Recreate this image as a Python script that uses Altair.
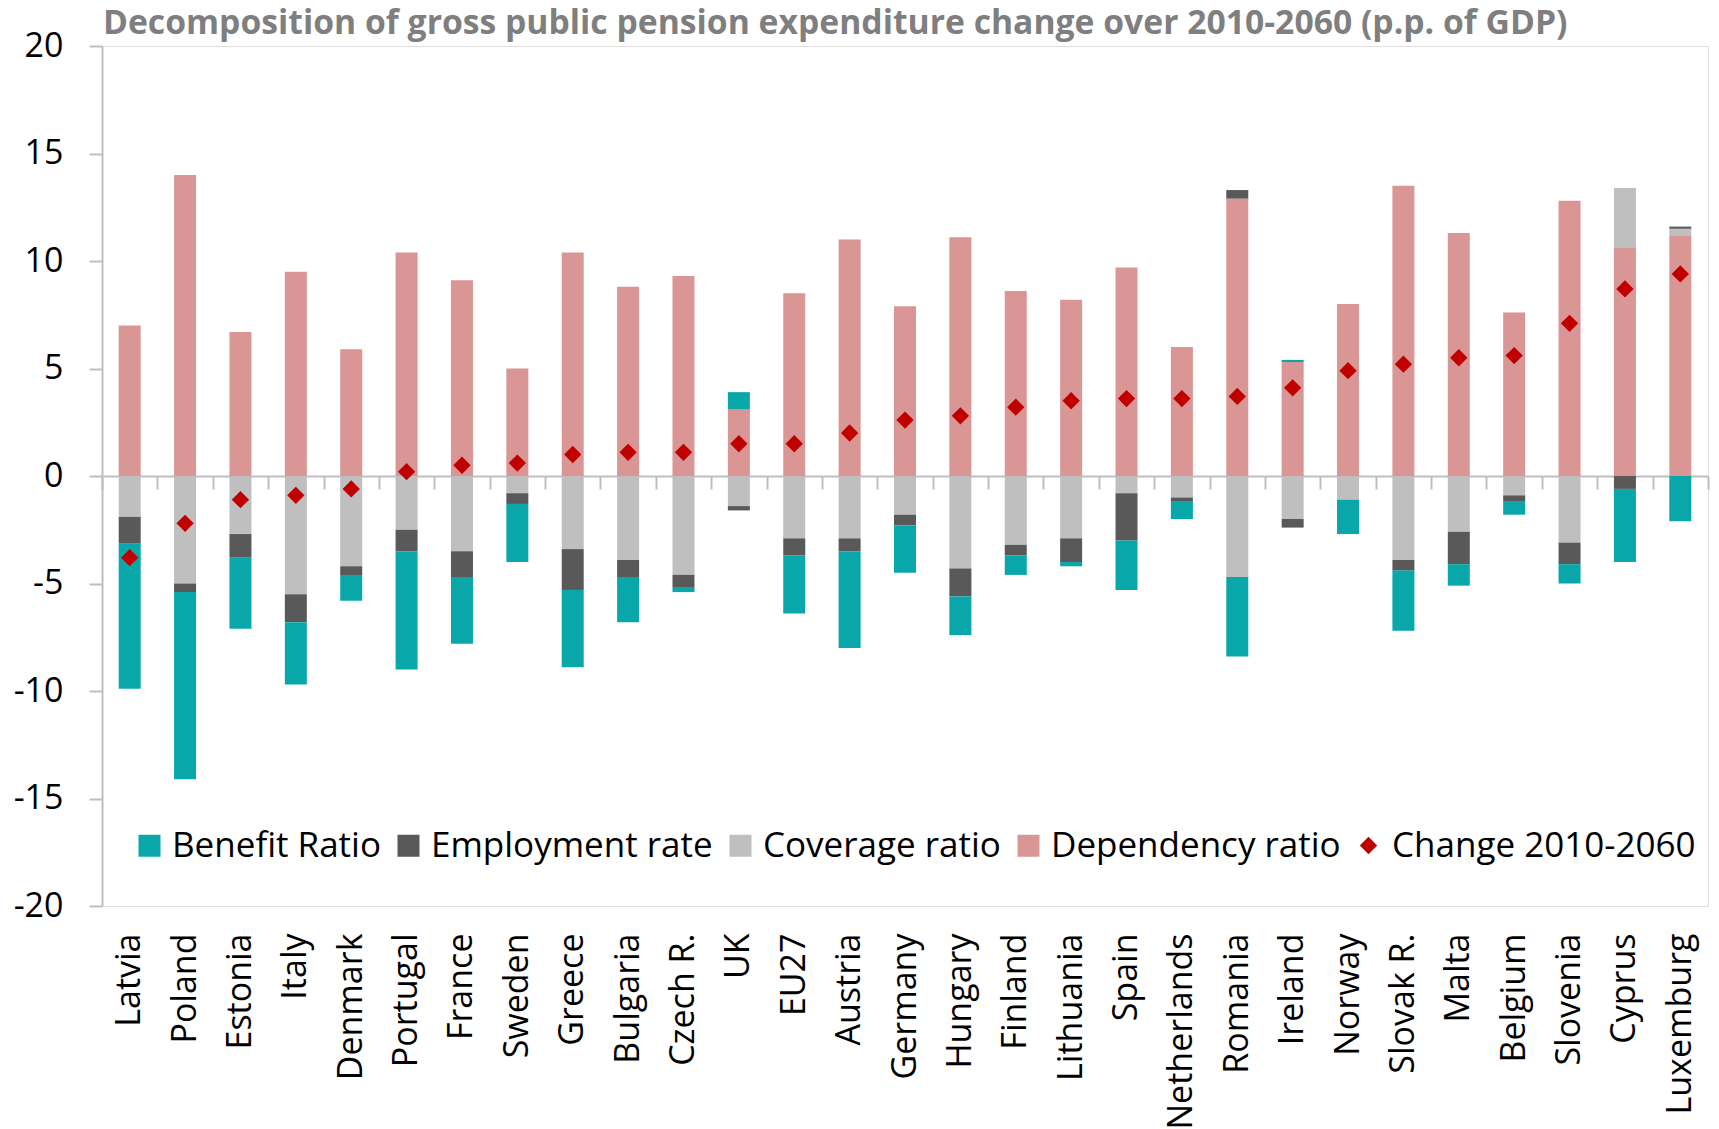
import altair as alt
import pandas as pd

countries = ["Latvia", "Poland", "Estonia", "Italy", "Denmark", "Portugal", "France", "Sweden",
             "Greece", "Bulgaria", "Czech R.", "UK", "EU27", "Austria", "Germany", "Hungary",
             "Finland", "Lithuania", "Spain", "Netherlands", "Romania", "Ireland", "Norway",
             "Slovak R.", "Malta", "Belgium", "Slovenia", "Cyprus", "Luxemburg"]

dependency = [7.0, 14.0, 6.7, 9.5, 5.9, 10.4, 9.1, 5.0, 10.4, 8.8, 9.3, 3.1, 8.5, 11.0, 7.9,
              11.1, 8.6, 8.2, 9.7, 6.0, 12.9, 5.3, 8.0, 13.5, 11.3, 7.6, 12.8, 10.6, 11.2]
coverage = [-1.9, -5.0, -2.7, -5.5, -4.2, -2.5, -3.5, -0.8, -3.4, -3.9, -4.6, -1.4, -2.9, -2.9,
            -1.8, -4.3, -3.2, -2.9, -0.8, -1.0, -4.7, -2.0, -1.1, -3.9, -2.6, -0.9, -3.1, 2.8, 0.3]
employment = [-1.25, -0.4, -1.1, -1.3, -0.4, -1.0, -1.2, -0.5, -1.9, -0.8, -0.6, -0.2, -0.8, -0.6,
              -0.5, -1.3, -0.5, -1.1, -2.2, -0.2, 0.4, -0.4, 0.0, -0.5, -1.5, -0.3, -1.0, -0.6, 0.1]
benefit = [-6.75, -8.7, -3.3, -2.9, -1.2, -5.5, -3.1, -2.7, -3.6, -2.1, -0.2, 0.8, -2.7, -4.5,
           -2.2, -1.8, -0.9, -0.2, -2.3, -0.8, -3.7, 0.1, -1.6, -2.8, -1.0, -0.6, -0.9, -3.4, -2.1]
change = [-3.8, -2.2, -1.1, -0.9, -0.6, 0.2, 0.5, 0.6, 1.0, 1.1, 1.1, 1.5, 1.5, 2.0, 2.6, 2.8,
          3.2, 3.5, 3.6, 3.6, 3.7, 4.1, 4.9, 5.2, 5.5, 5.6, 7.1, 8.7, 9.4]

series_names = ["Benefit Ratio", "Employment rate", "Coverage ratio", "Dependency ratio"]
series_colors = ["#0AA7AA", "#595959", "#BFBFBF", "#D99694"]
stack_rank = {"Dependency ratio": 0, "Coverage ratio": 1, "Employment rate": 2, "Benefit Ratio": 3}
change_name = "Change 2010-2060"

rows = []
for i, c in enumerate(countries):
    for name, vals in [("Dependency ratio", dependency), ("Coverage ratio", coverage),
                       ("Employment rate", employment), ("Benefit Ratio", benefit)]:
        rows.append({"country": c, "component": name, "value": vals[i], "rank": stack_rank[name]})
bars_df = pd.DataFrame(rows)
change_df = pd.DataFrame({"country": countries, "change": change, "series": [change_name] * len(countries)})

FONT = "Open Sans"
GRID = "#BFBFBF"

x_enc = alt.X(
    "country:N", sort=countries, title=None,
    scale=alt.Scale(paddingInner=0, paddingOuter=0),
    axis=alt.Axis(offset=-430, labelAngle=-90, labelFontSize=34, labelFont=FONT, labelColor="black",
                  labelPadding=444, labelLimit=500, tickBand="extent", tickSize=13, tickWidth=2,
                  tickColor=GRID, domainColor=GRID, domainWidth=2),
)
y_scale = alt.Scale(domain=[-20, 20], nice=False, zero=True)
y_axis = alt.Axis(values=[-20, -15, -10, -5, 0, 5, 10, 15, 20], grid=False, labelFontSize=34,
                  labelFont=FONT, labelColor="black", labelPadding=26, tickSize=13, tickWidth=2,
                  tickColor=GRID, domainColor=GRID, domainWidth=2,
                  labelExpr="replace(datum.label, '\u2212', '-')")

bars = alt.Chart(bars_df).mark_bar(size=22).encode(
    x=x_enc,
    y=alt.Y("value:Q", stack="zero", scale=y_scale, axis=y_axis, title=None),
    color=alt.Color("component:N", scale=alt.Scale(domain=series_names, range=series_colors),
                    legend=alt.Legend(title=None, orient="none", direction="horizontal",
                                      legendX=30, legendY=782, symbolType="square", symbolSize=484,
                                      symbolStrokeWidth=0, labelFontSize=35, labelFont=FONT,
                                      labelColor="black", labelOffset=5, columnPadding=10,
                                      labelLimit=600, padding=0)),
    order=alt.Order("rank:Q"),
)

points = alt.Chart(change_df).mark_point(filled=True, size=300, color="#C00000", opacity=1).encode(
    x=x_enc,
    y=alt.Y("change:Q", scale=y_scale, axis=y_axis, title=None),
    shape=alt.Shape("series:N", scale=alt.Scale(domain=[change_name], range=["diamond"]),
                    legend=alt.Legend(title=None, orient="none", legendX=1249, legendY=782,
                                      symbolSize=300, symbolFillColor="#C00000", symbolStrokeWidth=0,
                                      labelFontSize=35, labelFont=FONT, labelColor="black",
                                      labelOffset=6, labelLimit=600, padding=0)),
)

chart = alt.layer(bars, points).properties(
    width=1606, height=860,
    autosize=alt.AutoSizeParams(type="none"),
    padding={"left": 102, "top": 46, "right": 11, "bottom": 223},
    title=alt.TitleParams(
        "Decomposition of gross public pension expenditure change over 2010-2060 (p.p. of GDP)",
        anchor="start", frame="group", font=FONT, fontSize=33.7, fontWeight="bold", color="#7F7F7F",
        baseline="alphabetic", offset=-39, dx=1),
).configure_view(stroke=GRID, strokeWidth=2).configure(font=FONT)

chart.save("out.html", embed_options={"renderer": "svg", "actions": False})
